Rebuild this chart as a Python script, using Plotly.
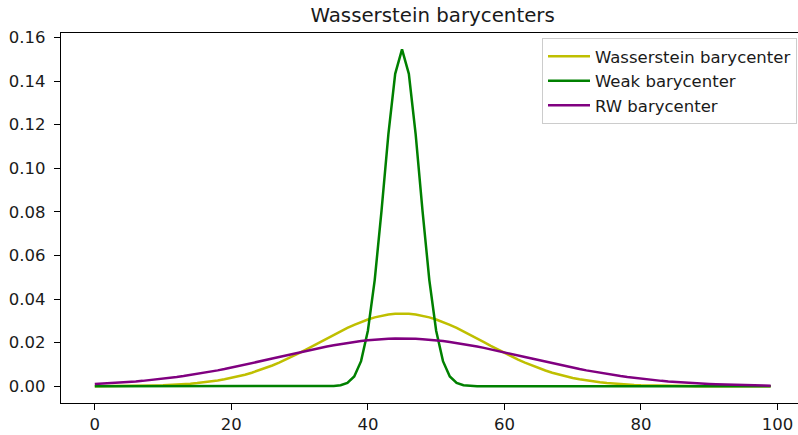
import plotly.graph_objects as go

x_vals = list(range(100))

wasserstein = [
    0.00003, 0.00004, 0.00005, 0.00007, 0.00010, 0.00013, 0.00017, 0.00022, 0.00029, 0.00037,
    0.00047, 0.00060, 0.00076, 0.00095, 0.00119, 0.00147, 0.00180, 0.00219, 0.00266, 0.00319,
    0.00381, 0.00452, 0.00532, 0.00622, 0.00722, 0.00833, 0.00954, 0.01084, 0.01224, 0.01373,
    0.01529, 0.01691, 0.01857, 0.02026, 0.02194, 0.02360, 0.02521, 0.02674, 0.02817, 0.02948,
    0.03062, 0.03160, 0.03237, 0.03294, 0.03328, 0.03340, 0.03328, 0.03294, 0.03237, 0.03160,
    0.03062, 0.02948, 0.02817, 0.02674, 0.02521, 0.02360, 0.02194, 0.02026, 0.01857, 0.01691,
    0.01529, 0.01373, 0.01224, 0.01084, 0.00954, 0.00833, 0.00722, 0.00622, 0.00532, 0.00452,
    0.00381, 0.00319, 0.00266, 0.00219, 0.00180, 0.00147, 0.00119, 0.00095, 0.00076, 0.00060,
    0.00047, 0.00037, 0.00029, 0.00022, 0.00017, 0.00013, 0.00010, 0.00007, 0.00005, 0.00004,
    0.00003, 0.00002, 0.00002, 0.00001, 0.00001, 0.00001, 0.00000, 0.00000, 0.00000, 0.00000,
]

weak = [
    0, 0, 0, 0, 0, 0, 0, 0, 0, 0,
    0, 0, 0, 0, 0, 0, 0, 0, 0, 0,
    0, 0, 0, 0, 0, 0, 0, 0, 0, 0,
    0, 0, 0, 0.000005, 0.000025, 0.000115, 0.00045, 0.00154, 0.00452, 0.01153,
    0.0255, 0.0487, 0.0806, 0.1155, 0.1433, 0.1545, 0.1433, 0.1155, 0.0806, 0.0487,
    0.0255, 0.01153, 0.00452, 0.00154, 0.00045, 0.000115, 0.000025, 0.000005, 0, 0,
    0, 0, 0, 0, 0, 0, 0, 0, 0, 0,
    0, 0, 0, 0, 0, 0, 0, 0, 0, 0,
    0, 0, 0, 0, 0, 0, 0, 0, 0, 0,
    0, 0, 0, 0, 0, 0, 0, 0, 0, 0,
]

rw = [
    0.00103, 0.00118, 0.00134, 0.00153, 0.00173, 0.00196, 0.00220, 0.00248, 0.00277, 0.00310,
    0.00345, 0.00382, 0.00423, 0.00467, 0.00513, 0.00563, 0.00615, 0.00671, 0.00729, 0.00789,
    0.00853, 0.00918, 0.00986, 0.01055, 0.01126, 0.01197, 0.01270, 0.01343, 0.01416, 0.01488,
    0.01559, 0.01629, 0.01697, 0.01762, 0.01824, 0.01883, 0.01938, 0.01988, 0.02034, 0.02074,
    0.02109, 0.02138, 0.02160, 0.02177, 0.02187, 0.02190, 0.02187, 0.02177, 0.02160, 0.02138,
    0.02109, 0.02074, 0.02034, 0.01988, 0.01938, 0.01883, 0.01824, 0.01762, 0.01697, 0.01629,
    0.01559, 0.01488, 0.01416, 0.01343, 0.01270, 0.01197, 0.01126, 0.01055, 0.00986, 0.00918,
    0.00853, 0.00789, 0.00729, 0.00671, 0.00615, 0.00563, 0.00513, 0.00467, 0.00423, 0.00382,
    0.00345, 0.00310, 0.00277, 0.00248, 0.00220, 0.00196, 0.00173, 0.00153, 0.00134, 0.00118,
    0.00103, 0.00090, 0.00078, 0.00068, 0.00058, 0.00050, 0.00043, 0.00037, 0.00032, 0.00027,
]

series_names = ["Wasserstein barycenter", "Weak barycenter", "RW barycenter"]
series_colors = ["#bfbf00", "#008000", "#800080"]
series_values = [wasserstein, weak, rw]

x_ticks = [0, 20, 40, 60, 80, 100]
y_ticks = [0.00, 0.02, 0.04, 0.06, 0.08, 0.10, 0.12, 0.14, 0.16]

FONT = "DejaVu Sans"
TXT = "#1a1a1a"
FS = 16.5

W, H = 798, 435
ML, MR, MT, MB = 61, 0, 33, 32
PW, PH = W - ML - MR, H - MT - MB

fig = go.Figure()
for name, col, vals in zip(series_names, series_colors, series_values):
    fig.add_trace(go.Scatter(
        x=x_vals, y=vals, mode="lines", name=name,
        line=dict(color=col, width=2.5),
    ))

fig.update_layout(
    width=W, height=H,
    margin=dict(l=ML, r=MR, t=MT, b=MB, pad=0, autoexpand=False),
    paper_bgcolor="white", plot_bgcolor="white",
    font=dict(family=FONT, size=FS, color=TXT),
    title=dict(
        text="Wasserstein barycenters",
        font=dict(family=FONT, size=19.8, color=TXT),
        x=432.6 / W, xref="container", xanchor="center",
        y=1 - 15.5 / H, yref="container", yanchor="middle",
    ),
    showlegend=True,
    legend=dict(
        x=(797 - ML) / PW, xref="paper", xanchor="right",
        y=(H - MB - 38) / PH, yref="paper", yanchor="top",
        bgcolor="rgba(255,255,255,0.8)",
        bordercolor="#cccccc", borderwidth=1,
        font=dict(family=FONT, size=FS, color=TXT),
        traceorder="normal",
        itemwidth=42,
    ),
    xaxis=dict(
        range=[-4.95, 103.0],
        tickvals=x_ticks, ticktext=[str(t) for t in x_ticks],
        showgrid=False, zeroline=False,
        showline=True, linecolor="black", linewidth=1.3, mirror=True,
        ticks="outside", ticklen=6, tickwidth=1.3, tickcolor="black",
        tickfont=dict(family=FONT, size=FS, color=TXT),
    ),
    yaxis=dict(
        range=[-0.00767, 0.16202],
        tickvals=y_ticks, ticktext=[f"{t:.2f}" for t in y_ticks],
        showgrid=False, zeroline=False,
        showline=True, linecolor="black", linewidth=1.3, mirror=False,
        ticks="outside", ticklen=6, tickwidth=1.3, tickcolor="black",
        tickfont=dict(family=FONT, size=FS, color=TXT),
        ticklabelstandoff=5,
    ),
)

fig.write_html("out.html")
